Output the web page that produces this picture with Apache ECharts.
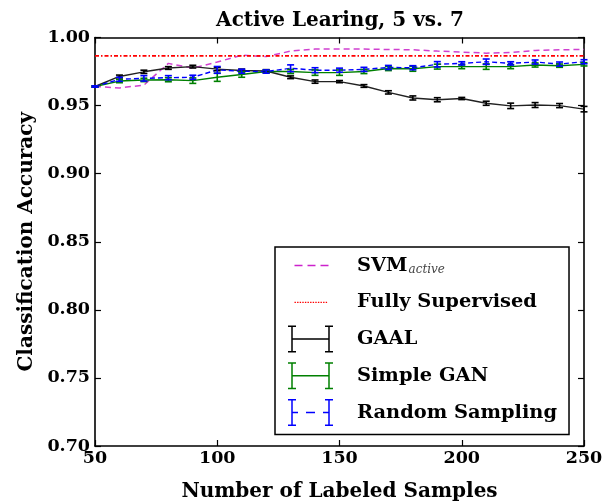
<!DOCTYPE html>
<html>
<head>
<meta charset="utf-8">
<script src="https://cdn.jsdelivr.net/npm/echarts@6/dist/echarts.min.js"></script>
<style>
  html, body { margin: 0; padding: 0; background: #fff; }
  #chart { width: 610px; height: 504px; }
</style>
</head>
<body>
<div id="chart"></div>
<script>
// Number of labeled samples queried so far
const samples = [50, 60, 70, 80, 90, 100, 110, 120, 130, 140, 150, 160, 170, 180, 190, 200, 210, 220, 230, 240, 250];

// GAAL: mean accuracy and error half-width
const gaalMean = [0.9640, 0.9714, 0.9748, 0.9776, 0.9786, 0.9768, 0.9758, 0.9754, 0.9708, 0.9676, 0.9676, 0.9644, 0.9597, 0.9556, 0.9543, 0.9552, 0.9517, 0.9498, 0.9504, 0.9500, 0.9474];
const gaalErr  = [0.0005, 0.0010, 0.0012, 0.0010, 0.0010, 0.0012, 0.0010, 0.0010, 0.0010, 0.0012, 0.0008, 0.0010, 0.0012, 0.0015, 0.0015, 0.0008, 0.0015, 0.0020, 0.0018, 0.0015, 0.0020];

// Simple GAN
const ganMean = [0.9640, 0.9680, 0.9688, 0.9690, 0.9683, 0.9708, 0.9728, 0.9750, 0.9750, 0.9742, 0.9742, 0.9750, 0.9772, 0.9770, 0.9786, 0.9786, 0.9786, 0.9786, 0.9798, 0.9793, 0.9803];
const ganErr  = [0.0005, 0.0012, 0.0012, 0.0015, 0.0020, 0.0030, 0.0020, 0.0012, 0.0015, 0.0020, 0.0020, 0.0015, 0.0015, 0.0018, 0.0018, 0.0015, 0.0020, 0.0015, 0.0015, 0.0012, 0.0012];

// Random sampling
const randMean = [0.9640, 0.9693, 0.9700, 0.9705, 0.9708, 0.9762, 0.9752, 0.9750, 0.9774, 0.9760, 0.9760, 0.9766, 0.9780, 0.9778, 0.9803, 0.9810, 0.9822, 0.9810, 0.9820, 0.9805, 0.9822];
const randErr  = [0.0005, 0.0015, 0.0020, 0.0015, 0.0015, 0.0025, 0.0015, 0.0012, 0.0025, 0.0018, 0.0015, 0.0015, 0.0015, 0.0015, 0.0020, 0.0012, 0.0020, 0.0012, 0.0015, 0.0015, 0.0015];

// SVM active learning baseline
const svmActive = [0.9640, 0.9630, 0.9650, 0.9810, 0.9775, 0.9820, 0.9870, 0.9860, 0.9900, 0.9915, 0.9915, 0.9915, 0.9912, 0.9910, 0.9900, 0.9893, 0.9885, 0.9890, 0.9905, 0.9910, 0.9912];

// Accuracy with the full labeled training set
const fullySupervised = 0.9865;

const xTicks = { min: 50, max: 250, step: 50 };
const yTicks = { min: 0.70, max: 1.00, step: 0.05 };

const FONT = '"DejaVu Serif", serif';

function pairs(values) {
  return samples.map((x, i) => [x, values[i]]);
}

function errorBars(name, color, mean, err) {
  return {
    name: name,
    type: 'custom',
    z: 4,
    silent: true,
    data: samples.map((x, i) => [x, mean[i] - err[i], mean[i] + err[i]]),
    encode: { x: 0, y: [1, 2] },
    renderItem: function (params, api) {
      const x = api.value(0);
      const lo = api.coord([x, api.value(1)]);
      const hi = api.coord([x, api.value(2)]);
      const hw = 3.5;
      const style = { stroke: color, lineWidth: 1.6, fill: null };
      return {
        type: 'group',
        children: [
          { type: 'line', shape: { x1: lo[0], y1: lo[1], x2: hi[0], y2: hi[1] }, style: style },
          { type: 'line', shape: { x1: lo[0] - hw, y1: lo[1], x2: lo[0] + hw, y2: lo[1] }, style: style },
          { type: 'line', shape: { x1: hi[0] - hw, y1: hi[1], x2: hi[0] + hw, y2: hi[1] }, style: style }
        ]
      };
    }
  };
}

// Legend glyphs, drawn in a 64 x 27 box (corner anchors keep the box size)
const anchor = 'M0 0h0.01v0.01h-0.01Z M63.99 26.99h0.01v0.01h-0.01Z ';
const beams = 'M3.25 0h1.5v27h-1.5Z M0 0h8v1.5h-8Z M0 25.5h8v1.5h-8Z ' +
              'M40.25 0h1.5v27h-1.5Z M37 0h8v1.5h-8Z M37 25.5h8v1.5h-8Z ';
const iconSolidBar = 'path://' + anchor + beams + 'M4 12.75h37v1.5h-37Z';
const iconDashedBar = 'path://' + anchor + beams + 'M4 12.75h6v1.5h-6Z M18 12.75h9v1.5h-9Z M35 12.75h6v1.5h-6Z';
const iconDashed = 'path://' + anchor + 'M6.5 12.75h8v1.5h-8Z M19.5 12.75h8v1.5h-8Z M32.5 12.75h8v1.5h-8Z';
let dots = '';
for (let x = 6.5; x < 40; x += 2.6) dots += 'M' + x.toFixed(2) + ' 12.9h1.4v1.3h-1.4Z ';
const iconDotted = 'path://' + anchor + dots;

const axisLineStyle = { color: '#000', width: 1.6 };
const tickStyle = { color: '#000', width: 1.2 };
const labelStyle = { color: '#000', fontFamily: FONT, fontWeight: 'bold', fontSize: 17.5 };

const chart = echarts.init(document.getElementById('chart'), null, { renderer: 'canvas' });

chart.setOption({
  animation: false,
  backgroundColor: '#fff',
  title: {
    text: 'Active Learing, 5 vs. 7',
    left: 340,
    top: 11,
    padding: 0,
    textAlign: 'center',
    textStyle: { fontFamily: FONT, fontWeight: 'bold', fontSize: 20, color: '#000' }
  },
  grid: { left: 95, right: 26, top: 37.5, bottom: 58, containLabel: false, outerBoundsMode: 'none' },
  xAxis: [
    {
      type: 'value', position: 'bottom',
      min: xTicks.min, max: xTicks.max, interval: xTicks.step,
      name: 'Number of Labeled Samples', nameLocation: 'middle', nameGap: 36,
      nameTextStyle: { fontFamily: FONT, fontWeight: 'bold', fontSize: 20, color: '#000' },
      axisLine: { show: true, onZero: false, lineStyle: axisLineStyle },
      axisTick: { show: true, inside: true, length: 6, lineStyle: tickStyle },
      axisLabel: Object.assign({ margin: 3 }, labelStyle),
      splitLine: { show: false }
    },
    {
      type: 'value', position: 'top',
      min: xTicks.min, max: xTicks.max, interval: xTicks.step,
      axisLine: { show: true, onZero: false, lineStyle: axisLineStyle },
      axisTick: { show: true, inside: true, length: 6, lineStyle: tickStyle },
      axisLabel: { show: false },
      splitLine: { show: false }
    }
  ],
  yAxis: [
    {
      type: 'value', position: 'left',
      min: yTicks.min, max: yTicks.max, interval: yTicks.step,
      name: 'Classification Accuracy', nameLocation: 'middle', nameGap: 57,
      nameTextStyle: { fontFamily: FONT, fontWeight: 'bold', fontSize: 20, color: '#000' },
      axisLine: { show: true, onZero: false, lineStyle: axisLineStyle },
      axisTick: { show: true, inside: true, length: 6, lineStyle: tickStyle },
      axisLabel: Object.assign({ margin: 5, formatter: v => v.toFixed(2) }, labelStyle),
      splitLine: { show: false }
    },
    {
      type: 'value', position: 'right',
      min: yTicks.min, max: yTicks.max, interval: yTicks.step,
      axisLine: { show: true, onZero: false, lineStyle: axisLineStyle },
      axisTick: { show: true, inside: true, length: 6, lineStyle: tickStyle },
      axisLabel: { show: false },
      splitLine: { show: false }
    }
  ],
  legend: {
    orient: 'vertical',
    left: 275, top: 247,
    padding: [5, 12, 8.5, 13],
    itemWidth: 64, itemHeight: 27, itemGap: 9.75,
    backgroundColor: '#fff',
    borderColor: '#000', borderWidth: 1.5, borderRadius: 0,
    selectedMode: false,
    itemStyle: { borderWidth: 0 },
    textStyle: {
      fontFamily: FONT, fontWeight: 'bold', fontSize: 19.4, color: '#000', padding: [0, 0, 0, 0],
      rich: {
        sub: { fontFamily: FONT, fontStyle: 'italic', fontWeight: 'normal', fontSize: 12, color: '#444', padding: [9, 0, 0, 1] }
      }
    },
    formatter: name => name === 'SVM_active' ? 'SVM{sub|active}' : name,
    data: [
      { name: 'SVM_active', icon: iconDashed },
      { name: 'Fully Supervised', icon: iconDotted },
      { name: 'GAAL', icon: iconSolidBar },
      { name: 'Simple GAN', icon: iconSolidBar },
      { name: 'Random Sampling', icon: iconDashedBar }
    ]
  },
  series: [
    {
      name: 'SVM_active', type: 'line', data: pairs(svmActive), symbol: 'none', z: 2,
      color: '#cc22cc',
      lineStyle: { color: '#d040d0', width: 1.5, type: [6, 4] }
    },
    {
      name: 'Fully Supervised', type: 'line', symbol: 'none', z: 2,
      data: [[xTicks.min, fullySupervised], [xTicks.max, fullySupervised]],
      color: '#ff0000',
      lineStyle: { color: '#ff0000', width: 1.8, type: [4, 2, 1.5, 2] }
    },
    {
      name: 'GAAL', type: 'line', data: pairs(gaalMean), symbol: 'none', z: 3,
      color: '#000',
      lineStyle: { color: '#222', width: 1.4 }
    },
    {
      name: 'Simple GAN', type: 'line', data: pairs(ganMean), symbol: 'none', z: 3,
      color: '#008000',
      lineStyle: { color: '#008000', width: 1.4 }
    },
    {
      name: 'Random Sampling', type: 'line', data: pairs(randMean), symbol: 'none', z: 3,
      color: '#0000ff',
      lineStyle: { color: '#0000ff', width: 1.4, type: [5, 3] }
    },
    errorBars('GAAL', '#000', gaalMean, gaalErr),
    errorBars('Simple GAN', '#008000', ganMean, ganErr),
    errorBars('Random Sampling', '#0000ff', randMean, randErr)
  ]
});
</script>
</body>
</html>
